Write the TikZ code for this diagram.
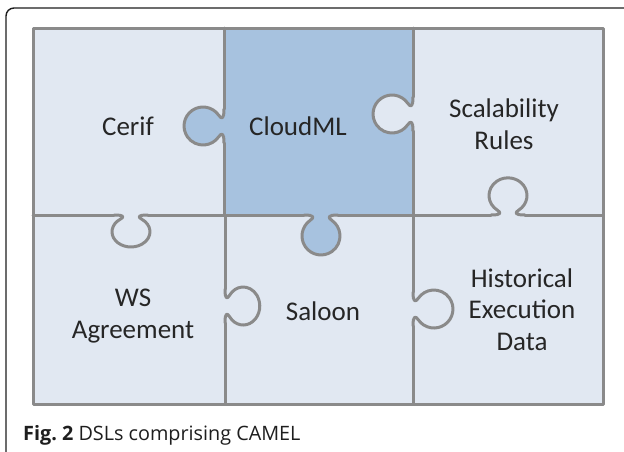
\documentclass[tikz,border=0pt]{standalone}
\usepackage{fontspec}
\setmainfont{Carlito}
\newfontfamily\capfont{Open Sans}
\definecolor{light}{RGB}{225,232,242}
\definecolor{dark}{RGB}{167,194,223}
\definecolor{edgegray}{RGB}{138,138,138}
\definecolor{txt}{RGB}{38,38,38}
\definecolor{framec}{RGB}{30,30,30}
\tikzset{
  edge/.style={draw=edgegray, line width=3pt, line cap=round, line join=round},
  label/.style={text=txt, inner sep=0pt, align=center, font=\fontsize{27}{31.5}\selectfont},
}
% #1 = position, #2 = transform options, #3 = fill colour
\newcommand{\Knob}[3]{%
  \begin{scope}[shift={#1}, #2]
    \fill[#3] (-17,0) .. controls (-6,0) and (-6.8,2.5) .. (-10.9,5.4)
      arc[start angle=235, end angle=-55, radius=19]
      .. controls (6.8,2.5) and (6,0) .. (17,0) -- cycle;
    \draw[edge] (-17,0) .. controls (-6,0) and (-6.8,2.5) .. (-10.9,5.4)
      arc[start angle=235, end angle=-55, radius=19]
      .. controls (6.8,2.5) and (6,0) .. (17,0);
  \end{scope}}
\begin{document}
\begin{tikzpicture}[x=1pt, y=-1pt]
\useasboundingbox (0,0) rectangle (624,451);
\fill[white] (0,0) rectangle (624,451);
% pieces
\fill[light] (33,28) rectangle (603,404);
\fill[dark] (224,28) rectangle (413,215);
% dividers
\draw[edge] (224,28) -- (224,109);
\draw[edge] (224,143) -- (224,215);
\draw[edge] (225,215) -- (225,289);
\draw[edge] (225,323) -- (225,404);
\draw[edge] (413,28) -- (413,97);
\draw[edge] (413,131) -- (413,215);
\draw[edge] (413,215) -- (413,292);
\draw[edge] (413,326) -- (413,404);
\draw[edge] (33,215) -- (114,215);
\draw[edge] (148,215) -- (304,215);
\draw[edge] (338,215) -- (491,215);
\draw[edge] (525,215) -- (603,215);
% knobs
\Knob{(224,126)}{rotate=-90}{dark}
\Knob{(413,114)}{rotate=-90}{light}
\Knob{(508,215)}{rotate=180, yscale=0.93}{light}
\Knob{(131,215)}{yscale=0.8}{light}
\Knob{(321,215)}{}{dark}
\Knob{(225,306)}{rotate=90, yscale=0.87}{light}
\Knob{(413,309)}{rotate=90}{light}
% outer border
\draw[edge] (33,28) rectangle (603,404);
% labels (base anchor = baseline of the last line)
\node[label, anchor=base] (cerif) at (128,135) {Cerif};
\node[label, anchor=base] (cloudml) at (298,135) {CloudML};
\node[label, anchor=base] (scal) at (504,149) {Scalability\\Rules};
\node[label, anchor=base] (ws) at (133,338) {WS\\Agreement};
\node[label, anchor=base] (saloon) at (323,320) {Saloon};
\node[label, anchor=base] (hist) at (522,350) {Historical\\Execution\\Data};
% frame and caption
\draw[framec, line width=1.4pt, rounded corners=8pt] (6,453) -- (6,8) -- (626,8);
\node[anchor=base west, inner sep=0pt, text=framec] (caption) at (23,440)
  {\capfont\fontsize{19.8}{22}\selectfont\textbf{Fig.~2} DSLs comprising CAMEL};
\end{tikzpicture}
\end{document}
